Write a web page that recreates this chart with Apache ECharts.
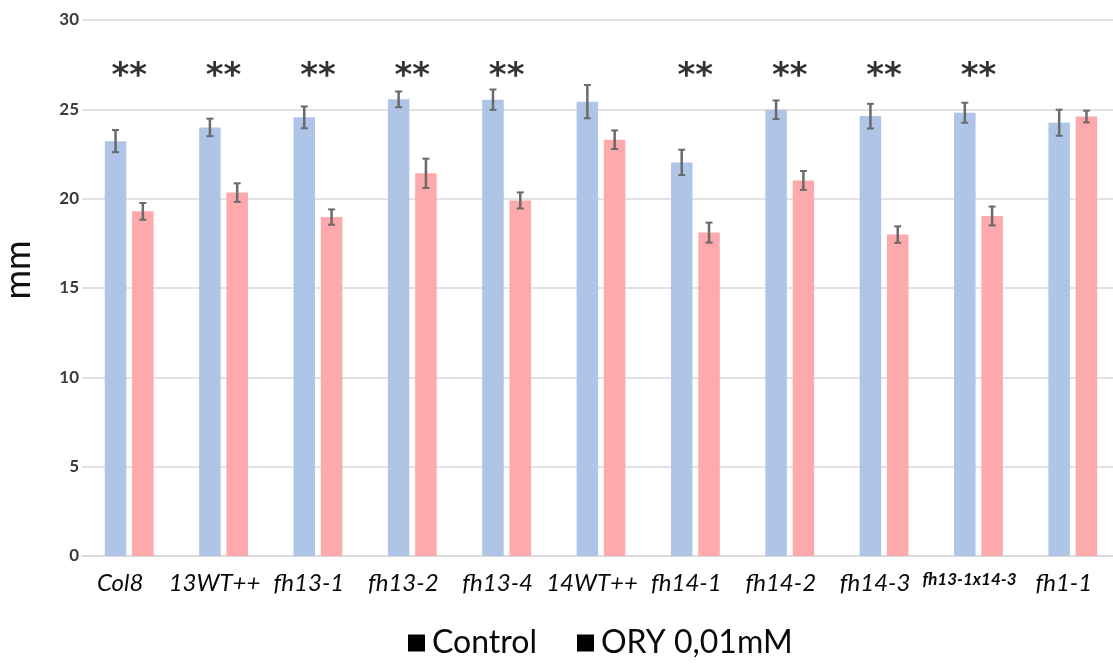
<!DOCTYPE html>
<html>
<head>
<meta charset="utf-8">
<script src="https://cdn.jsdelivr.net/npm/echarts@6/dist/echarts.min.js"></script>
<style>
  html, body { margin: 0; padding: 0; background: #fff; }
  #chart { width: 1113px; height: 666px; }
</style>
</head>
<body>
<div id="chart"></div>
<script>
// Genotypes along the x axis
const categories = ['Col8', '13WT++', 'fh13-1', 'fh13-2', 'fh13-4', '14WT++', 'fh14-1', 'fh14-2', 'fh14-3', 'fh13-1x14-3', 'fh1-1'];

// Mean length (mm) and standard error, untreated
const controlMean = [23.22, 23.99, 24.55, 25.56, 25.54, 25.43, 22.03, 24.98, 24.62, 24.81, 24.25];
const controlErr  = [0.62, 0.49, 0.61, 0.44, 0.57, 0.93, 0.71, 0.52, 0.69, 0.56, 0.73];

// Mean length (mm) and standard error, ORY 0,01mM
const oryMean = [19.29, 20.34, 18.97, 21.42, 19.90, 23.30, 18.10, 21.02, 17.99, 19.03, 24.60];
const oryErr  = [0.47, 0.52, 0.43, 0.82, 0.45, 0.52, 0.56, 0.53, 0.46, 0.53, 0.33];

// Significance marks per genotype
const significance = ['**', '**', '**', '**', '**', '', '**', '**', '**', '**', ''];

// Y axis range
const yMin = 0, yMax = 30, yStep = 5;

const seriesNames = ['Control', 'ORY 0,01mM'];
const BAR_W = 21.5;       // px
const BAR_GAP = 5.8;      // px between the two bars of a group
const STAR_LEVEL = 26.8;  // height of the significance marks, in mm
const FONT = 'Lato, "Open Sans", sans-serif';

const chart = echarts.init(document.getElementById('chart'), null, { renderer: 'canvas' });

function errorBars(side) {
  return function (params, api) {
    const idx = api.value(0);
    const lo = api.coord([idx, api.value(1)]);
    const hi = api.coord([idx, api.value(2)]);
    const cx = lo[0] + side * (BAR_W + BAR_GAP) / 2;
    const cap = 3.5;
    const style = { stroke: '#6a6a6a', lineWidth: 2 };
    return {
      type: 'group',
      children: [
        { type: 'line', shape: { x1: cx, y1: lo[1], x2: cx, y2: hi[1] }, style: { stroke: '#6a6a6a', lineWidth: 2.5 } },
        { type: 'line', shape: { x1: cx - cap, y1: hi[1], x2: cx + cap, y2: hi[1] }, style: style },
        { type: 'line', shape: { x1: cx - cap, y1: lo[1], x2: cx + cap, y2: lo[1] }, style: style }
      ]
    };
  };
}

const axisCategories = categories.map(c =>
  c.length > 8 ? { value: c, textStyle: { fontSize: 17, fontWeight: 'bold' } } : c
);

chart.setOption({
  animation: false,
  backgroundColor: '#fff',
  grid: { left: 82, right: -7, top: 20, bottom: 110, outerBoundsMode: 'none', containLabel: false },
  legend: {
    data: seriesNames,
    top: 622,
    left: 403,
    icon: 'rect',
    itemWidth: 17,
    itemHeight: 17,
    itemGap: 40,
    itemStyle: { color: '#000' },
    textStyle: { fontSize: 32, color: '#0a0a0a', fontFamily: FONT, padding: [0, 0, 0, 2] }
  },
  xAxis: {
    type: 'category',
    data: axisCategories,
    axisLine: { show: true, lineStyle: { color: '#dcdcdc', width: 2 } },
    axisTick: { show: false },
    axisLabel: {
      interval: 0,
      fontStyle: 'italic',
      fontSize: 24,
      color: '#0a0a0a',
      fontFamily: FONT,
      margin: 15,
      padding: [0, 18, 0, 0]
    },
    splitLine: { show: false }
  },
  yAxis: {
    type: 'value',
    min: yMin,
    max: yMax,
    interval: yStep,
    name: 'mm',
    nameLocation: 'middle',
    nameRotate: 90,
    nameGap: 46,
    nameTextStyle: { fontSize: 36, color: '#111', fontFamily: FONT, padding: [0, 0, 0, 36] },
    axisLine: { show: false },
    axisTick: { show: false },
    axisLabel: { fontSize: 17, fontWeight: 'bold', color: '#3a3a3a', fontFamily: FONT, margin: 3 },
    splitLine: { lineStyle: { color: '#e2e2e2', width: 2 } }
  },
  series: [
    {
      name: seriesNames[0],
      type: 'bar',
      data: controlMean,
      barWidth: BAR_W,
      barGap: (BAR_GAP / BAR_W * 100).toFixed(1) + '%',
      itemStyle: { color: '#aec5e8' }
    },
    {
      name: seriesNames[1],
      type: 'bar',
      data: oryMean,
      barWidth: BAR_W,
      barGap: (BAR_GAP / BAR_W * 100).toFixed(1) + '%',
      itemStyle: { color: '#fea9ab' }
    },
    {
      type: 'custom',
      renderItem: errorBars(-1),
      data: controlMean.map((m, i) => [i, m - controlErr[i], m + controlErr[i]]),
      z: 5
    },
    {
      type: 'custom',
      renderItem: errorBars(1),
      data: oryMean.map((m, i) => [i, m - oryErr[i], m + oryErr[i]]),
      z: 5
    },
    {
      type: 'scatter',
      symbolSize: 0,
      data: significance.map((s, i) => [i, STAR_LEVEL]).filter((d, i) => significance[i] !== ''),
      label: {
        show: true,
        position: 'inside',
        formatter: p => significance[p.value[0]],
        fontSize: 34,
        fontWeight: 'bold',
        color: '#000',
        fontFamily: '"DejaVu Sans", sans-serif'
      },
      silent: true,
      z: 6
    }
  ]
});
</script>
</body>
</html>
